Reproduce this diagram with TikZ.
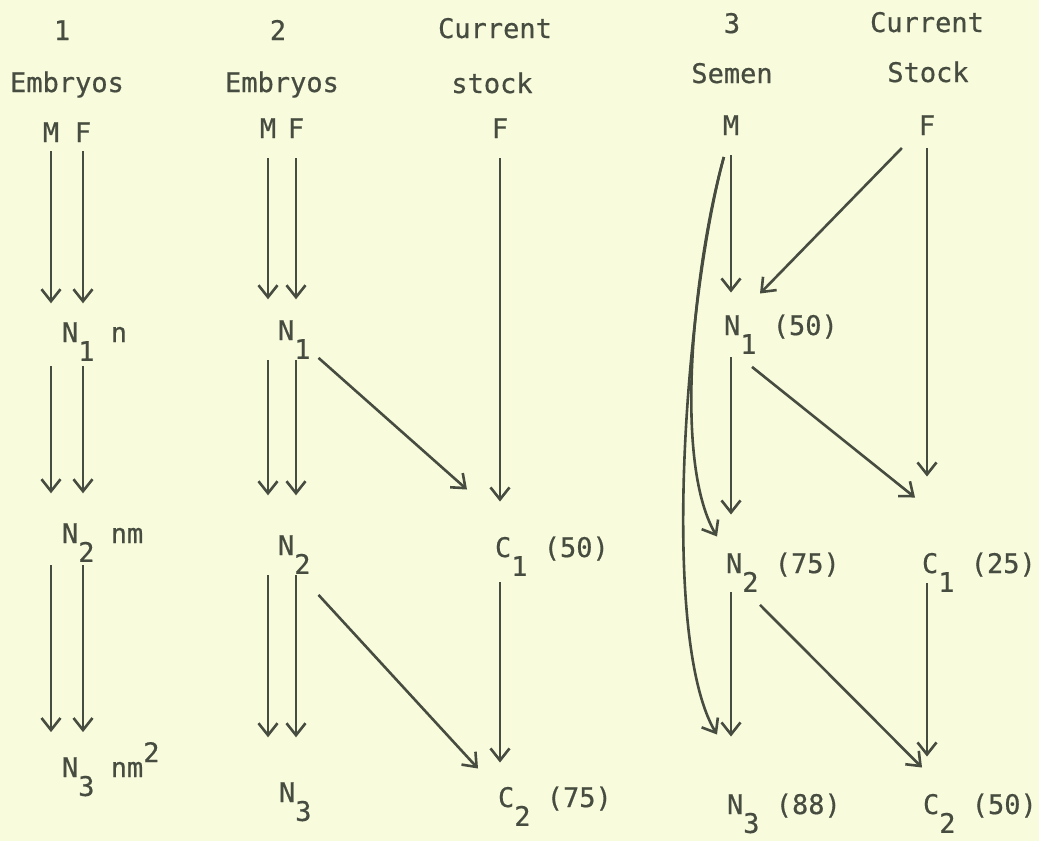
\documentclass[tikz,border=0pt]{standalone}
\usepackage{fontspec}
\usepackage{tikz}
\usetikzlibrary{arrows.meta}
\newfontfamily\typewr[FakeBold=0.6]{DejaVu Sans Mono}
\definecolor{paper}{RGB}{249,251,221}
\definecolor{ink}{RGB}{70,76,64}
\tikzset{>={Straight Barb[length=12pt,width=19pt]}}
\newcommand{\lowr}[1]{\raisebox{-0.7em}{#1}}
\newcommand{\highr}[1]{\raisebox{0.55em}{#1}}

\begin{document}
\begin{tikzpicture}[x=1pt,y=-1pt,
  every node/.style={inner sep=0pt,outer sep=0pt,text=ink,
    font=\typewr\fontsize{27}{32}\selectfont},
  hd/.style={anchor=base},
  lbl/.style={anchor=base west},
  link/.style={->,draw=ink,line width=2.6pt},
  arr/.style={link,shorten <=20pt,shorten >=24pt}]
\path[use as bounding box,fill=paper] (0,0) rectangle (1039,841);
% column heads
\node[hd] (h1) at (62,40) {1};
\node[hd] (e1) at (67,92) {Embryos};
\node[hd] (h2) at (278,40) {2};
\node[hd] (e2) at (282,92) {Embryos};
\node[hd] (hs) at (495,38) {Current};
\node[hd] (es) at (492,93) {stock};
\node[hd] (h3) at (732,33) {3};
\node[hd] (e3) at (732,83) {Semen};
\node[hd] (h4) at (927,32) {Current};
\node[hd] (e4) at (928,82) {Stock};
\node[hd] (c1M) at (51,142) {M};
\node[hd] (c1F) at (83,142) {F};
\node[hd] (c2M) at (268,138) {M};
\node[hd] (c2F) at (296,138) {F};
\node[hd] (sF) at (500,138) {F};
\node[hd] (c3M) at (731,135) {M};
\node[hd] (c4F) at (927,135) {F};
% generations
\node[lbl] (c1N1) at (62,342) {N\lowr{1} n};
\node[lbl] (c1N2) at (62,543) {N\lowr{2} nm};
\node[lbl] (c1N3) at (62,777) {N\lowr{3} nm\highr{2}};
\node[lbl] (c2N1) at (278,340) {N\lowr{1}};
\node[lbl] (c2N2) at (278,555) {N\lowr{2}};
\node[lbl] (c2N3) at (279,802) {N\lowr{3}};
\node[lbl] (sC1) at (495,557) {C\lowr{1} (50)};
\node[lbl] (sC2) at (498,807) {C\lowr{2} (75)};
\node[lbl] (c3N1) at (724,335) {N\lowr{1} (50)};
\node[lbl] (c3N2) at (726,573) {N\lowr{2} (75)};
\node[lbl] (c3N3) at (727,814) {N\lowr{3} (88)};
\node[lbl] (c4C1) at (922,573) {C\lowr{1} (25)};
\node[lbl] (c4C2) at (923,814) {C\lowr{2} (50)};

\draw[arr,shorten <=9pt,shorten >=19pt] (c1M.base) -- (c1M |- c1N1.north);
\draw[arr,shorten <=9pt,shorten >=19pt] (c1F.base) -- (c1F |- c1N1.north);
\draw[arr,shorten <=24pt,shorten >=30pt] (c1M |- c1N1.base) -- (c1M |- c1N2.north);
\draw[arr,shorten <=24pt,shorten >=30pt] (c1F |- c1N1.base) -- (c1F |- c1N2.north);
\draw[arr,shorten <=22pt,shorten >=10pt] (c1M |- c1N2.base) -- (c1M |- c1N3.north);
\draw[arr,shorten <=22pt,shorten >=10pt] (c1F |- c1N2.base) -- (c1F |- c1N3.north);

\draw[arr,shorten >=21pt] (c2M.base) -- (c2M |- c2N1.north);
\draw[arr,shorten >=21pt] (c2F.base) -- (c2F |- c2N1.north);
\draw[arr,shorten >=40pt] (c2M |- c2N1.base) -- (c2M |- c2N2.north);
\draw[arr,shorten >=40pt] (c2F |- c2N1.base) -- (c2F |- c2N2.north);
\draw[arr,shorten >=45pt] (c2M |- c2N2.base) -- (c2M |- c2N3.north);
\draw[arr,shorten >=45pt] (c2F |- c2N2.base) -- (c2F |- c2N3.north);
\draw[link] ([shift={(8,-1)}]c2N1.south east) -- ([shift={(-28,-47)}]sC1.north west);
\draw[link] ([shift={(8,21)}]c2N2.south east) -- ([shift={(-20,-18)}]sC2.north west);

\draw[arr,shorten >=35pt] (sF.base) -- (sF |- sC1.north);
\draw[arr,shorten <=25pt] (sF |- sC1.base) -- (sF |- sC2.north);

\draw[arr,shorten >=22pt] (c3M.base) -- (c3M |- c3N1.north);
\draw[arr,shorten <=22pt,shorten >=38pt] (c3M |- c3N1.base) -- (c3M |- c3N2.north);
\draw[arr,shorten <=19pt,shorten >=57pt] (c3M |- c3N2.base) -- (c3M |- c3N3.north);
\draw[link] ([shift={(1,22)}]c3M.south west)
  .. controls (695,260) and (672,460) .. ([shift={(-9,-16)}]c3N2.north west);
\draw[link] ([shift={(1,22)}]c3M.south west)
  .. controls (685,300) and (660,640) .. ([shift={(-10,-59)}]c3N3.north west);
\draw[link] ([shift={(-17,13)}]c4F.south west) -- ([shift={(36,-21)}]c3N1.north west);
\draw[link] ([shift={(28,13)}]c3N1.south west) -- ([shift={(-7,-55)}]c4C1.north west);
\draw[link] ([shift={(34,13)}]c3N2.south west) -- ([shift={(-1,-26)}]c4C2.north west);

\draw[arr,shorten <=13pt,shorten >=76pt] (c4F.base) -- (c4F |- c4C1.north);
\draw[arr,shorten <=10pt,shorten >=37pt] (c4F |- c4C1.base) -- (c4F |- c4C2.north);
\end{tikzpicture}
\end{document}
